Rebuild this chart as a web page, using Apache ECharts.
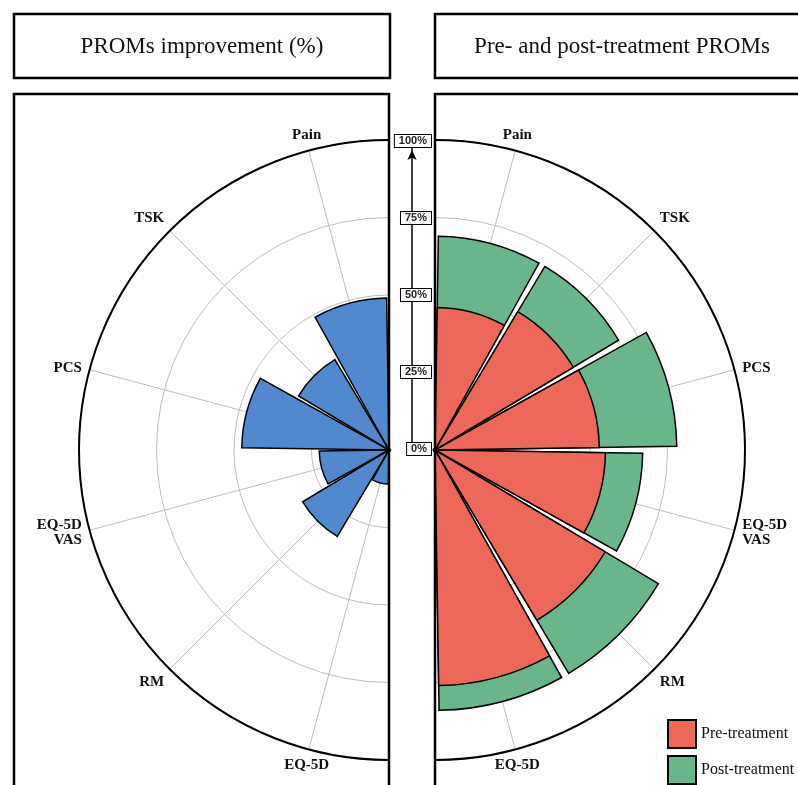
<!DOCTYPE html>
<html>
<head>
<meta charset="utf-8">
<style>
html, body { margin: 0; padding: 0; background: #fff; }
#main { width: 798px; height: 785px; }
</style>
</head>
<body>
<div id="main"></div>
<script src="https://cdn.jsdelivr.net/npm/echarts@6/dist/echarts.min.js"></script>
<script>
var categories = ['Pain', 'TSK', 'PCS', 'EQ-5D\nVAS', 'RM', 'EQ-5D'];
// PROMs improvement (%)
var improvement = [49, 34, 47.5, 22.5, 32.5, 11];
// pre / post treatment PROMs (%)
var preTreatment = [46, 52, 53, 55, 64, 76];
var postTreatment = [69, 69, 78, 67, 84, 84];
var scaleMax = 100;
var scaleStep = 25;

var serif = 'Liberation Serif';

function angleAxisOpt (polarIndex, start, end, clockwise) {
  return {
    polarIndex: polarIndex,
    type: 'category',
    data: categories,
    startAngle: start,
    endAngle: end,
    clockwise: clockwise,
    axisLine: { show: true, lineStyle: { color: '#000', width: 2 } },
    axisTick: { show: false, alignWithLabel: true },
    axisLabel: {
      margin: 8,
      fontFamily: serif,
      fontWeight: 'bold',
      fontSize: 15,
      color: '#111'
    },
    splitLine: { show: true, lineStyle: { color: '#bdbdbd', width: 1 } }
  }
}

function radiusAxisOpt (polarIndex) {
  return {
    polarIndex: polarIndex,
    type: 'value',
    min: 0,
    max: scaleMax,
    interval: scaleStep,
    axisLine: { show: false },
    axisTick: { show: false },
    axisLabel: { show: false },
    splitLine: { show: true, lineStyle: { color: '#bdbdbd', width: 1 } }
  }
}

var chart = echarts.init(document.getElementById('main'))
chart.setOption({
  backgroundColor: '#fff',
  animation: false,
  polar: [
    { center: [389, 450], radius: 310 },
    { center: [435, 450], radius: 310 }
  ],
  angleAxis: [
    angleAxisOpt(0, 90, 270, false),
    angleAxisOpt(1, 90, -90, true)
  ],
  radiusAxis: [
    radiusAxisOpt(0),
    radiusAxisOpt(1)
  ],
  // 0-100% scale in the middle strip
  grid: { left: 412, top: 141, width: 1, height: 308 },
  xAxis: { type: 'value', show: false },
  yAxis: {
    type: 'value',
    min: 0,
    max: scaleMax,
    interval: scaleStep,
    axisLine: {
      show: true,
      symbol: ['none', 'arrow'],
      symbolSize: [7, 10],
      symbolOffset: [0, -9],
      lineStyle: { color: '#000', width: 1.5 }
    },
    axisTick: { show: false },
    splitLine: { show: false },
    axisLabel: {
      formatter: '{value}%',
      align: 'right',
      margin: -19,
      backgroundColor: '#fff',
      borderColor: '#000',
      borderWidth: 1,
      padding: [1, 4, 0, 4],
      fontSize: 11,
      fontWeight: 'bold',
      fontFamily: 'Liberation Sans',
      color: '#222'
    }
  },
  legend: {
    orient: 'vertical',
    left: 667,
    top: 719,
    height: 90,
    padding: 0,
    itemWidth: 28,
    itemHeight: 28,
    itemGap: 6,
    icon: 'rect',
    data: ['Pre-treatment', 'Post-treatment'],
    textStyle: { fontFamily: serif, fontSize: 16, color: '#111' }
  },
  series: [
    {
      name: 'Improvement',
      type: 'bar',
      coordinateSystem: 'polar',
      polarIndex: 0,
      data: improvement,
      barCategoryGap: '6%',
      itemStyle: { color: '#5089cd', borderColor: '#000', borderWidth: 1.5 }
    },
    {
      name: 'Post-treatment',
      type: 'bar',
      coordinateSystem: 'polar',
      polarIndex: 1,
      data: postTreatment,
      barGap: '-100%',
      barCategoryGap: '6%',
      itemStyle: { color: '#68b689', borderColor: '#000', borderWidth: 1.5 }
    },
    {
      name: 'Pre-treatment',
      type: 'bar',
      coordinateSystem: 'polar',
      polarIndex: 1,
      data: preTreatment,
      barGap: '-100%',
      barCategoryGap: '6%',
      itemStyle: { color: '#ee685a', borderColor: '#000', borderWidth: 1.5 }
    }
  ],
  graphic: [
    {
      type: 'rect',
      shape: { x: 14, y: 14, width: 376, height: 64 },
      style: { fill: '#fff', stroke: '#000', lineWidth: 2.5 }
    },
    {
      type: 'rect',
      shape: { x: 435, y: 14, width: 390, height: 64 },
      style: { fill: '#fff', stroke: '#000', lineWidth: 2.5 }
    },
    {
      type: 'text',
      x: 202,
      y: 47,
      style: { text: 'PROMs improvement (%)', font: '23px "Liberation Serif"', fill: '#111', align: 'center', verticalAlign: 'middle' }
    },
    {
      type: 'text',
      x: 622,
      y: 47,
      style: { text: 'Pre- and post-treatment PROMs', font: '23px "Liberation Serif"', fill: '#111', align: 'center', verticalAlign: 'middle' }
    },
    {
      type: 'rect',
      z: 100,
      shape: { x: 14, y: 94, width: 375, height: 720 },
      style: { fill: null, stroke: '#000', lineWidth: 2.5 }
    },
    {
      type: 'rect',
      z: 100,
      shape: { x: 435, y: 94, width: 390, height: 720 },
      style: { fill: null, stroke: '#000', lineWidth: 2.5 }
    }
  ]
})
</script>
</body>
</html>
